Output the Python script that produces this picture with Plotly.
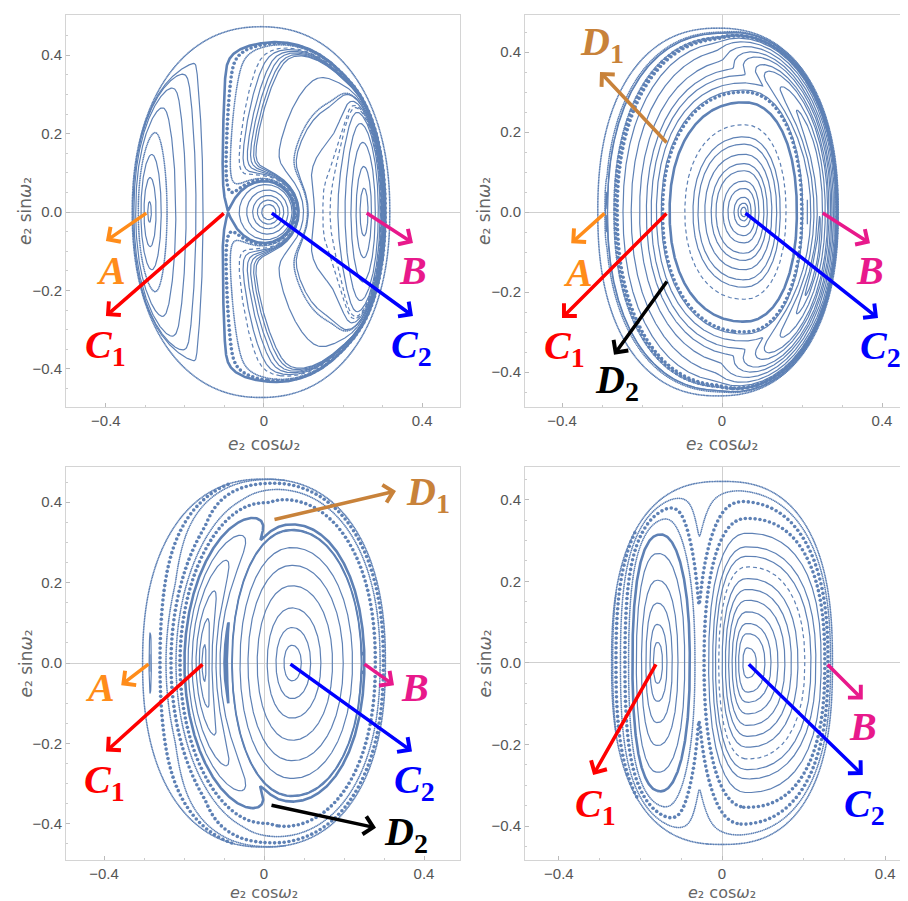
import numpy as np
import plotly.graph_objects as go
from collections import defaultdict

LINE = "#5E81B5"

# ---------------- data ----------------
# fixed points (e2 cos w2, e2 sin w2)
P1_FIXED = {"A": (-0.294, 0.0), "C1": (-0.098, 0.0), "C2": (0.016, 0.0), "B": (0.256, 0.0)}
P2_FIXED = {"A": (-0.29, 0.0), "C1": (-0.135, 0.0), "C2": (0.055, 0.0), "B": (0.248, 0.0),
            "D1": (-0.135, 0.17), "D2": (-0.135, -0.17)}
P3_FIXED = {"A": (-0.285, 0.0), "C1": (-0.15, 0.0), "C2": (0.0625, 0.0), "B": (0.2475, 0.0),
            "D1": (0.0225, 0.356), "D2": (0.015, -0.353)}
P4_FIXED = {"C1": (-0.16, 0.0), "C2": (0.062, 0.0), "B": (0.255, 0.0)}

# outer edge of the sections: centre x, half-width, half-height, exponent
P1_EDGE = (-0.0075, 0.3275, 0.475, 2.2)
P2_EDGE = (-0.01, 0.302, 0.462, 2.3)
P3_EDGE = (0.0, 0.305, 0.46, 2.3)
P4_EDGE = (0.0, 0.272, 0.447, 2.5)

# panel 1 model terms: amplitude, x, y, width x, width y
P1_TERMS = [(2.0, -0.294, 0.0, 0.10, 0.50), (1.0, 0.016, 0.0, 0.06, 0.065),
            (-0.6, 0.256, 0.0, 0.045, 0.30), (-0.5, 0.18, 0.0, 0.22, 0.50)]
# resonance lobes: x, y, left half-width, right half-width, half-height, exponent, base level
P2_LOBES = [(0.055, 0.0, 0.19, 0.135, 0.28, 2.2, 0.0), (-0.29, 0.0, 0.006, 0.006, 0.19, 2.0, 3.1)]
P3_LOBES = [(0.07, 0.0, 0.1675, 0.195, 0.37, 2.1, 0.0), (0.2475, 0.0, 0.008, 0.008, 0.18, 2.0, 0.78),
            (-0.285, 0.0, 0.006, 0.006, 0.18, 2.0, 3.4)]
P4_LOBES = [(0.062, 0.0, 0.097, 0.195, 0.325, 2.3, 0.0), (-0.1585, 0.0, 0.0645, 0.0835, 0.335, 2.3, 0.0)]
# crescent lobes: centre x, half-width, half-height, radial width, angle, angular width,
# base, scale, angular exponent
P2_ARCS = [(0.03, 0.218, 0.37, 0.135, 0.0, 1.3, 1.0, 0.3, 4)]
P3_ARCS = [(0.06, 0.21, 0.36, 0.25, np.pi, 1.36, 0.0, 1.0, 2)]

# axis crossings (y = 0) of the drawn orbits
P1_SEEDS = [-0.285, -0.273, -0.26, -0.223, -0.197, -0.172, -0.154, -0.318,
            0.03, 0.04, 0.05, 0.061, 0.071, 0.078,
            0.243, 0.233, 0.22, 0.205, 0.187, 0.167, 0.149, 0.128, 0.112, 0.1, 0.3]
P1_STYLE = ["s", "s", "s", "s", "s", "s", "s", "f",
            "s", "s", "s", "s", "s", "d",
            "s", "s", "s", "s", "s", "-", "-", "s", "s", "s", "f"]
# crossings of the line e2 cos w2 = -0.02 (upper half) in panel 1
P1_UPPER = [0.16, 0.2, 0.24, 0.278, 0.325, 0.367, 0.414]
P1_UPPER_STYLE = ["s", "s", "s", "s", "s", "-", "f"]
P2_SEEDS = [-0.131, -0.093, -0.0725, -0.06, -0.043, -0.027, -0.015, 0.0025, 0.015, 0.03, 0.04, 0.047,
            -0.2475, -0.227, -0.206, -0.189, -0.177, -0.164, -0.152, -0.286, -0.2875,
            0.244, 0.238, 0.23, 0.222, 0.215, -0.27, -0.262]
P2_STYLE = ["T", "-", "s", "s", "s", "s", "s", "s", "s", "s", "s", "s",
            "s", "s", "s", "s", "s", "s", "s", "s", "s",
            "s", "s", "s", "s", "-", "f", "d"]
# crossings of the line e2 cos w2 = 0 (upper half) in panel 2
P2_UPPER = [0.292, 0.438, 0.45]
P2_UPPER_STYLE = ["d", "d", "f"]
P3_SEEDS = [0.05, 0.03, 0.008, -0.017, -0.04, -0.06, -0.08, -0.093,
            -0.155, -0.162, -0.17, -0.18, -0.19, -0.199,
            -0.21, -0.22, -0.2325, -0.245, -0.26, -0.2835, -0.2815, 0.2455, 0.243]
P3_STYLE = ["s", "s", "s", "s", "s", "s", "s", "T",
            "s", "s", "s", "s", "s", "T",
            "d", "f", "d", "f", "d", "s", "s", "s", "s"]
P4_SEEDS = [0.084, 0.105, 0.12, 0.137, 0.154, 0.17, 0.186, 0.203, 0.218, 0.23, 0.243, 0.252,
            -0.146, -0.135, -0.122, -0.108, -0.0915, -0.079,
            -0.229, -0.238, -0.249, -0.26, -0.268]
P4_STYLE = ["s", "s", "s", "s", "s", "s", "s", "-", "s", "s", "s", "d",
            "s", "s", "s", "s", "s", "T",
            "f", "d", "f", "d", "f"]

# panels: plot-area pixels (left, top, right, bottom) and axis ranges
PANEL_PX = [(58, 7, 452, 399), (517, 7, 907, 399), (58, 459, 452, 852), (517, 459, 907, 852)]
PANEL_XR = [(-0.501, 0.496), (-0.4925, 0.4825), (-0.495, 0.49), (-0.483, 0.473)]
PANEL_YR = [(-0.497, 0.5025), (-0.4875, 0.4925), (-0.49, 0.4876), (-0.483, 0.48)]

W, H = 908, 901

# ---------------- model helpers ----------------
xg = np.linspace(-0.37, 0.37, 341)
yg = np.linspace(-0.5, 0.5, 461)
X, Y = np.meshgrid(xg, yg)


def edge_rho(x, y, edge):
    cx, ex, ey, p = edge
    return (np.abs((x - cx) / ex) ** p + np.abs(y / ey) ** p) ** (1.0 / p)


def gauss_terms(x, y, terms):
    z = np.zeros_like(x, dtype=float)
    for a, cx, cy, sx, sy in terms:
        z = z + a * np.exp(-((x - cx) / sx) ** 2 - ((y - cy) / sy) ** 2)
    return z


def lobe_q(x, y, lobe):
    cx, cy, sxl, sxr, sy, p, base = lobe
    dx = x - cx
    sx = np.where(dx < 0, sxl, sxr)
    return (np.abs(dx / sx) ** p + np.abs((y - cy) / sy) ** p) ** (2.0 / p) + base


def arc_q(x, y, arc):
    xc, ax, ay, w, th0, thw, base, scale, pe = arc
    u = (x - xc) / ax
    v = y / ay
    r = np.hypot(u, v)
    dth = np.angle(np.exp(1j * (np.arctan2(v, u) - th0)))
    return scale * (((r - 1) / w) ** 2 + np.abs(dth / thw) ** pe) + base


def softmin(qs, tau):
    q = np.stack(qs)
    m = q.min(axis=0)
    return m - tau * np.log(np.exp(-(q - m) / tau).sum(axis=0))


def field1(x, y):
    r = edge_rho(x, y, P1_EDGE)
    wall = 1.8 * np.tanh((x + 0.17) / 0.03) * np.exp((r - 1) / 0.03)
    return gauss_terms(x, y, P1_TERMS) + wall


def lobe_field(x, y, lobes, arcs, edge, tau):
    qs = [lobe_q(x, y, L) for L in lobes] + [arc_q(x, y, A) for A in arcs]
    return softmin(qs, tau) + 2.0 * np.exp((edge_rho(x, y, edge) - 1) / 0.035)


def field2(x, y):
    return lobe_field(x, y, P2_LOBES, P2_ARCS, P2_EDGE, 0.03)


def field3(x, y):
    return lobe_field(x, y, P3_LOBES, P3_ARCS, P3_EDGE, 0.03)


def field4(x, y):
    return lobe_field(x, y, P4_LOBES, [], P4_EDGE, 0.05)


def contour_lines(Z, level):
    D = Z - level
    ny, nx = D.shape
    fin = np.isfinite(D)
    pos = np.where(fin, D > 0, False)
    dx = xg[1] - xg[0]
    dy = yg[1] - yg[0]
    with np.errstate(invalid="ignore", divide="ignore"):
        a = D[:, :-1]; b = D[:, 1:]
        hmask = fin[:, :-1] & fin[:, 1:] & (pos[:, :-1] != pos[:, 1:])
        th = a / (a - b)
        hx = xg[None, :-1] + th * dx
        hy = np.broadcast_to(yg[:, None], th.shape)
        c = D[:-1, :]; d = D[1:, :]
        vmask = fin[:-1, :] & fin[1:, :] & (pos[:-1, :] != pos[1:, :])
        tv = c / (c - d)
        vx = np.broadcast_to(xg[None, :], tv.shape)
        vy = yg[:-1, None] + tv * dy
    nh = ny * (nx - 1)
    cellfin = fin[:-1, :-1] & fin[:-1, 1:] & fin[1:, :-1] & fin[1:, 1:]
    eb = hmask[:-1, :]
    et = hmask[1:, :]
    el = vmask[:, :-1]
    er = vmask[:, 1:]
    cnt = eb.astype(int) + et + el + er
    ii, jj = np.nonzero(cellfin & (cnt >= 2))
    segs = []
    for i, j in zip(ii.tolist(), jj.tolist()):
        idb = i * (nx - 1) + j
        idt = (i + 1) * (nx - 1) + j
        idl = nh + i * nx + j
        idr = nh + i * nx + j + 1
        if cnt[i, j] == 2:
            e = []
            if eb[i, j]: e.append(idb)
            if er[i, j]: e.append(idr)
            if et[i, j]: e.append(idt)
            if el[i, j]: e.append(idl)
            segs.append((e[0], e[1]))
        elif cnt[i, j] == 4:
            m = (D[i, j] + D[i, j + 1] + D[i + 1, j] + D[i + 1, j + 1]) / 4.0
            if (m > 0) == pos[i, j]:
                segs.append((idb, idr)); segs.append((idt, idl))
            else:
                segs.append((idb, idl)); segs.append((idt, idr))
    nb = defaultdict(list)
    for e1, e2 in segs:
        nb[e1].append(e2)
        nb[e2].append(e1)
    seen = set()
    paths = []

    def walk(s):
        path = [s]
        seen.add(s)
        cur = s
        while True:
            nxt = [n for n in nb[cur] if n not in seen]
            if not nxt:
                break
            cur = nxt[0]
            path.append(cur)
            seen.add(cur)
        if len(path) > 2 and s in nb[cur]:
            path.append(s)
        return path

    for n in list(nb.keys()):
        if len(nb[n]) == 1 and n not in seen:
            paths.append(walk(n))
    for n in list(nb.keys()):
        if n not in seen:
            paths.append(walk(n))
    out = []
    for p in paths:
        if len(p) < 3:
            continue
        p = np.array(p)
        ish = p < nh
        px = np.empty(len(p)); py = np.empty(len(p))
        hi = p[ish]
        px[ish] = hx[hi // (nx - 1), hi % (nx - 1)]
        py[ish] = hy[hi // (nx - 1), hi % (nx - 1)]
        vi = p[~ish] - nh
        px[~ish] = vx[vi // nx, vi % nx]
        py[~ish] = vy[vi // nx, vi % nx]
        out.append((px, py))
    return out


def dist2(line, sx, sy):
    return np.min((line[0] - sx) ** 2 + (line[1] - sy) ** 2)


def resample(lx, ly, step):
    s = np.concatenate([[0], np.cumsum(np.hypot(np.diff(lx), np.diff(ly)))])
    if s[-1] < step:
        return lx, ly
    t = np.arange(0, s[-1], step)
    return np.interp(t, s, lx), np.interp(t, s, ly)


def panel_traces(field, edge, items, k):
    Z = field(X, Y)
    Z = np.where(edge_rho(X, Y, edge) <= 1.0, Z, np.nan)
    groups = {"s": ([], []), "-": ([], []), "T": ([], []), "d": ([], []), "f": ([], [])}
    for sx, sy, st in items:
        lev = float(field(np.array([sx]), np.array([sy]))[0])
        lines = contour_lines(Z, lev)
        if not lines:
            continue
        if st == "A":
            sel = [ln for ln in lines if dist2(ln, sx, sy) < 0.03 ** 2]
        else:
            sel = [min(lines, key=lambda ln: dist2(ln, sx, sy))]
        for lx, ly in sel:
            if st in ("d", "f"):
                lx, ly = resample(lx, ly, 0.012 if st == "d" else 0.0045)
            gx, gy = groups["T" if st == "A" else st]
            gx.extend(lx.tolist() + [None])
            gy.extend(ly.tolist() + [None])
    Zr = edge_rho(X, Y, edge)
    for lx, ly in contour_lines(Zr, 0.995):
        lx, ly = resample(lx, ly, 0.004)
        groups["f"][0].extend(lx.tolist() + [None])
        groups["f"][1].extend(ly.tolist() + [None])
    xa = "x" if k == 1 else "x%d" % k
    ya = "y" if k == 1 else "y%d" % k
    tr = []
    tr.append(go.Scatter(x=groups["s"][0], y=groups["s"][1], mode="lines",
                         line=dict(color=LINE, width=1.2), xaxis=xa, yaxis=ya, hoverinfo="skip"))
    tr.append(go.Scatter(x=groups["-"][0], y=groups["-"][1], mode="lines",
                         line=dict(color=LINE, width=1.2, dash="4px,3px"), xaxis=xa, yaxis=ya, hoverinfo="skip"))
    tr.append(go.Scatter(x=groups["T"][0], y=groups["T"][1], mode="lines",
                         line=dict(color=LINE, width=2.6), xaxis=xa, yaxis=ya, hoverinfo="skip"))
    tr.append(go.Scatter(x=groups["d"][0], y=groups["d"][1], mode="markers",
                         marker=dict(color=LINE, size=3.6), xaxis=xa, yaxis=ya, hoverinfo="skip"))
    tr.append(go.Scatter(x=groups["f"][0], y=groups["f"][1], mode="markers",
                         marker=dict(color=LINE, size=1.7), xaxis=xa, yaxis=ya, hoverinfo="skip"))
    return tr


def axis_items(seeds, styles):
    return [(sx, 0.0, st) for sx, st in zip(seeds, styles)]


xs1 = np.linspace(P1_FIXED["A"][0] + 0.03, P1_FIXED["C2"][0] - 0.01, 2000)
s1 = xs1[np.argmin(field1(xs1, np.zeros_like(xs1)))]
items1 = axis_items(P1_SEEDS, P1_STYLE) + [(-0.02, yy, st) for yy, st in zip(P1_UPPER, P1_UPPER_STYLE)]
items1 += [(s1, 0.0, "A")]
items2 = axis_items(P2_SEEDS, P2_STYLE) + [(0.0, yy, st) for yy, st in zip(P2_UPPER, P2_UPPER_STYLE)]

traces = []
traces += panel_traces(field1, P1_EDGE, items1, 1)
traces += panel_traces(field2, P2_EDGE, items2, 2)
traces += panel_traces(field3, P3_EDGE, axis_items(P3_SEEDS, P3_STYLE), 3)
traces += panel_traces(field4, P4_EDGE, axis_items(P4_SEEDS, P4_STYLE), 4)

fig = go.Figure(traces)

GRAY = "#cfcfcf"
layout = dict(width=W, height=H, margin=dict(l=0, r=0, t=0, b=0), showlegend=False,
              paper_bgcolor="white", plot_bgcolor="white")
for k in range(4):
    l, t, r, b = PANEL_PX[k]
    sfx = "" if k == 0 else str(k + 1)
    layout["xaxis" + sfx] = dict(
        domain=[l / W, r / W], range=list(PANEL_XR[k]), anchor="y" + sfx,
        showgrid=False, zeroline=True, zerolinecolor=GRAY, zerolinewidth=1,
        showline=True, mirror=True, linecolor="#d4d4d4", linewidth=1,
        ticks="inside", ticklen=4, tickcolor="#bbbbbb",
        tickvals=[-0.4, 0, 0.4], ticktext=["\u22120.4", "0", "0.4"],
        tickfont=dict(family="Liberation Sans", size=15, color="#555555"),
        minor=dict(ticks="inside", ticklen=2, tickcolor="#cccccc", dtick=0.1, showgrid=False))
    layout["yaxis" + sfx] = dict(
        domain=[1 - b / H, 1 - t / H], range=list(PANEL_YR[k]), anchor="x" + sfx,
        showgrid=False, zeroline=True, zerolinecolor=GRAY, zerolinewidth=1,
        showline=True, mirror=True, linecolor="#d4d4d4", linewidth=1,
        ticks="inside", ticklen=4, tickcolor="#bbbbbb",
        tickvals=[-0.4, -0.2, 0, 0.2, 0.4], ticktext=["\u22120.4", "\u22120.2", "0.0", "0.2", "0.4"],
        tickfont=dict(family="Liberation Sans", size=15, color="#555555"),
        minor=dict(ticks="inside", ticklen=2, tickcolor="#cccccc", dtick=0.05, showgrid=False))
fig.update_layout(**layout)

ann = []
TFONT = dict(family="DejaVu Sans", size=17, color="#666666")
BFONT = dict(family="DejaVu Sans", size=16, color="#666666")
XT = "<i>e</i>\u2082 cos<i>\u03c9</i>\u2082"
YT = "<i>e</i>\u2082 sin<i>\u03c9</i>\u2082"
for k in range(4):
    l, t, r, b = PANEL_PX[k]
    x0p = l + (0 - PANEL_XR[k][0]) / (PANEL_XR[k][1] - PANEL_XR[k][0]) * (r - l)
    ann.append(dict(text=XT, x=x0p / W,
                    y=1 - (b + (37 if k < 2 else 32)) / H, xref="paper", yref="paper", showarrow=False,
                    font=TFONT if k < 2 else BFONT, xanchor="center", yanchor="middle"))
    ann.append(dict(text=YT, x=(l - 41) / W,
                    y=1 - ((t + b) / 2) / H, xref="paper", yref="paper", showarrow=False,
                    font=TFONT, textangle=-90, xanchor="center", yanchor="middle"))

COL = {"A": "#FF8C1A", "B": "#E8198B", "C1": "#FF0000", "C2": "#0000FF", "D1": "#C8823A", "D2": "#000000"}
TXT = {"A": "<b><i>A</i></b>", "B": "<b><i>B</i></b>", "C1": "<b><i>C</i><sub>1</sub></b>",
       "C2": "<b><i>C</i><sub>2</sub></b>", "D1": "<b><i>D</i><sub>1</sub></b>", "D2": "<b><i>D</i><sub>2</sub></b>"}
# arrow tips and label places (data units) per panel
ARROWS = [
    {"A": ((-0.40, -0.074), (-0.387, -0.15)), "C1": ((-0.40, -0.265), (-0.40, -0.345)),
     "C2": ((0.377, -0.265), (0.372, -0.345)), "B": ((0.377, -0.079), (0.377, -0.15))},
    {"D1": ((-0.305, 0.35), (-0.30, 0.42)), "A": ((-0.377, -0.078), (-0.36, -0.15)),
     "C1": ((-0.40, -0.265), (-0.395, -0.34)), "D2": ((-0.27, -0.357), (-0.262, -0.425)),
     "C2": ((0.39, -0.265), (0.395, -0.34)), "B": ((0.37, -0.078), (0.37, -0.145))},
    {"D1": ((0.33, 0.428), (0.41, 0.42)), "A": ((-0.357, -0.055), (-0.41, -0.06)),
     "C1": ((-0.395, -0.22), (-0.40, -0.295)), "C2": ((0.37, -0.22), (0.375, -0.295)),
     "B": ((0.325, -0.055), (0.378, -0.06)), "D2": ((0.28, -0.41), (0.355, -0.425))},
    {"C1": ((-0.316, -0.275), (-0.31, -0.35)), "C2": ((0.345, -0.275), (0.35, -0.35)),
     "B": ((0.345, -0.09), (0.345, -0.157))},
]
FIXED = [P1_FIXED, P2_FIXED, P3_FIXED, P4_FIXED]
for k in range(4):
    xr = "x" if k == 0 else "x%d" % (k + 1)
    yr = "y" if k == 0 else "y%d" % (k + 1)
    for name, (tip, lab) in ARROWS[k].items():
        tail = FIXED[k][name]
        ann.append(dict(x=tip[0], y=tip[1], ax=tail[0], ay=tail[1], xref=xr, yref=yr,
                        axref=xr, ayref=yr, showarrow=True, arrowhead=4, arrowsize=1.0,
                        arrowwidth=3.5, arrowcolor=COL[name], text=""))
        ann.append(dict(x=lab[0], y=lab[1], xref=xr, yref=yr, showarrow=False, text=TXT[name],
                        font=dict(family="Liberation Serif", size=40, color=COL[name]),
                        xanchor="center", yanchor="middle"))
fig.update_layout(annotations=ann)
fig.write_html("out.html")
